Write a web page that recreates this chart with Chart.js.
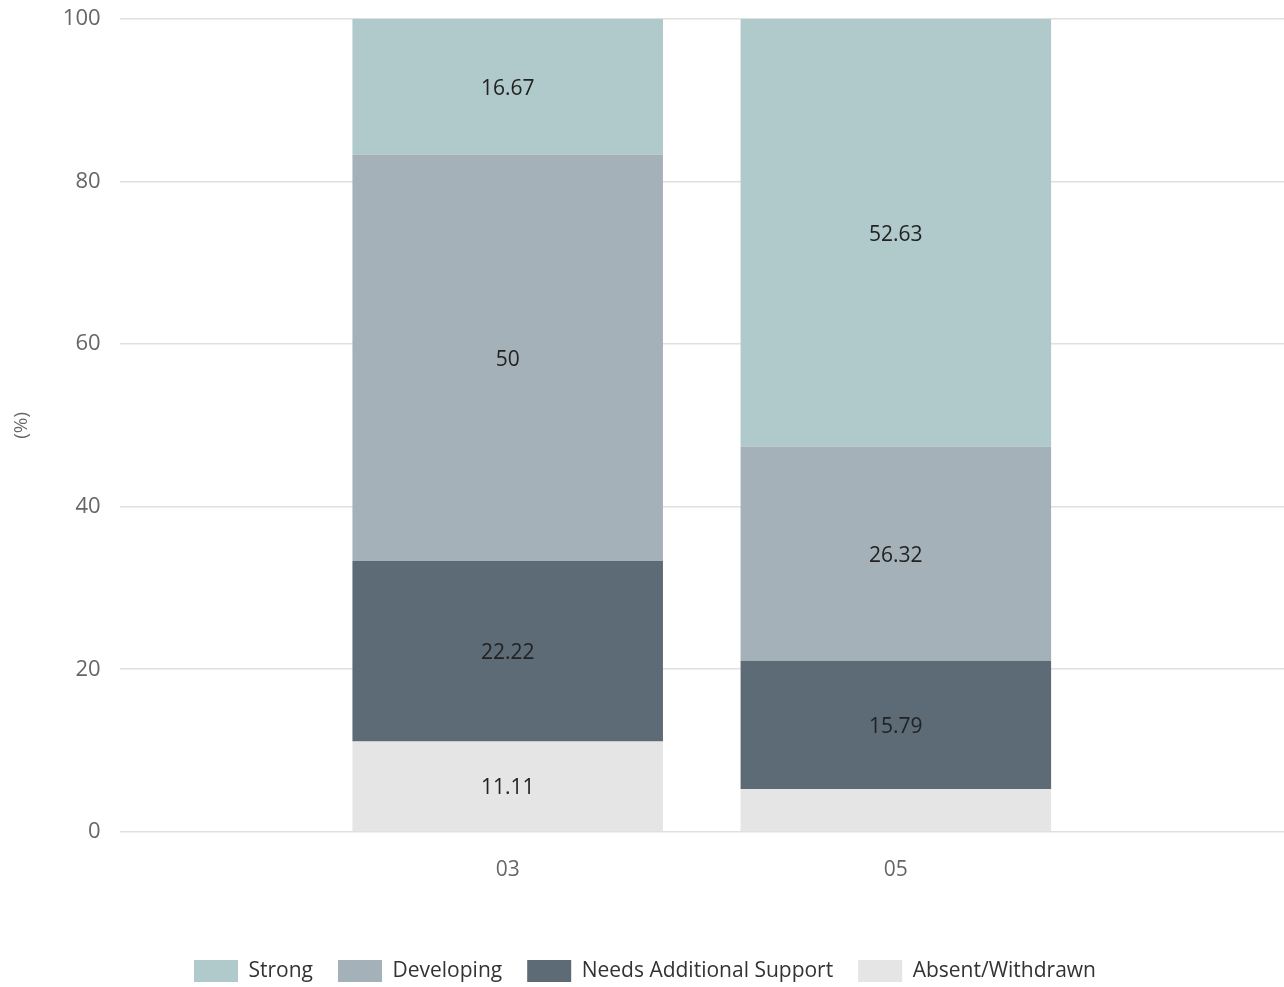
<!DOCTYPE html>
<html>
<head>
<meta charset="utf-8">
<script src="https://cdn.jsdelivr.net/npm/chart.js@4"></script>
<style>
  html, body { margin: 0; padding: 0; background: #fff; }
  #wrap { width: 1284px; height: 987px; }
</style>
</head>
<body>
<div id="wrap"><canvas id="chart"></canvas></div>
<script>
const categories = ['03', '05'];
const seriesNames = ['Strong', 'Developing', 'Needs Additional Support', 'Absent/Withdrawn'];
const strong = [16.67, 52.63];
const developing = [50, 26.32];
const needsSupport = [22.22, 15.79];
const absent = [11.11, 5.26];
const yTicks = [0, 20, 40, 60, 80, 100];

const colors = ['#b0c9ca', '#a5b1b8', '#5d6b76', '#e5e5e5'];
const FONT = "'Open Sans', 'Noto Sans', sans-serif";

function points(vals) {
  return vals.map((v, i) => ({ x: i, y: v }));
}

// stacked bottom-up: absent, needs, developing, strong
const stackOrder = [absent, needsSupport, developing, strong];
const stackNames = [seriesNames[3], seriesNames[2], seriesNames[1], seriesNames[0]];
const stackColors = [colors[3], colors[2], colors[1], colors[0]];

const datasets = stackOrder.map((vals, k) => ({
  label: stackNames[k],
  data: points(vals),
  backgroundColor: stackColors[k],
  borderWidth: 0,
  barPercentage: 1,
  categoryPercentage: 0.8
}));

const segmentLabels = {
  id: 'segmentLabels',
  afterDatasetsDraw(chart) {
    const ctx = chart.ctx;
    ctx.save();
    ctx.font = '21px ' + FONT;
    ctx.fillStyle = '#222';
    ctx.textAlign = 'center';
    ctx.textBaseline = 'middle';
    chart.data.datasets.forEach((ds, di) => {
      const meta = chart.getDatasetMeta(di);
      meta.data.forEach((bar, i) => {
        const v = ds.data[i].y;
        if (v < 6) return;
        const mid = (bar.y + bar.base) / 2;
        ctx.fillText(String(v), bar.x, mid + 2);
      });
    });
    ctx.restore();
  }
};

new Chart(document.getElementById('chart'), {
  type: 'bar',
  data: { datasets },
  options: {
    responsive: true,
    maintainAspectRatio: false,
    animation: false,
    layout: { padding: { top: 19, right: 0, bottom: -5, left: 6 } },
    scales: {
      x: {
        type: 'linear',
        stacked: true,
        offset: false,
        min: -1,
        max: 2,
        grid: { display: false },
        border: { display: false },
        afterBuildTicks(axis) {
          axis.ticks = categories.map((c, i) => ({ value: i }));
        },
        afterFit(axis) {
          axis.height += 34;
        },
        ticks: {
          color: '#666',
          font: { family: FONT, size: 21 },
          padding: 18,
          callback: v => categories[v] ?? ''
        }
      },
      y: {
        stacked: true,
        min: 0,
        max: 100,
        afterBuildTicks(axis) {
          axis.ticks = yTicks.map(v => ({ value: v }));
        },
        afterFit(axis) {
          axis.paddingTop = 0;
          axis.paddingBottom = 0;
        },
        grid: { color: '#e0e0e0', lineWidth: 1.5, drawTicks: false },
        border: { display: false },
        ticks: {
          color: '#666',
          font: { family: FONT, size: 22 },
          padding: 19
        },
        title: {
          display: true,
          text: '(%)',
          color: '#666',
          font: { family: FONT, size: 19 },
          padding: { bottom: 11 }
        }
      }
    },
    plugins: {
      tooltip: { enabled: false },
      legend: {
        position: 'bottom',
        reverse: true,
        labels: {
          color: '#333',
          font: { family: FONT, size: 21 },
          boxWidth: 44,
          boxHeight: 22,
          padding: 25
        }
      }
    }
  },
  plugins: [segmentLabels]
});
</script>
</body>
</html>
